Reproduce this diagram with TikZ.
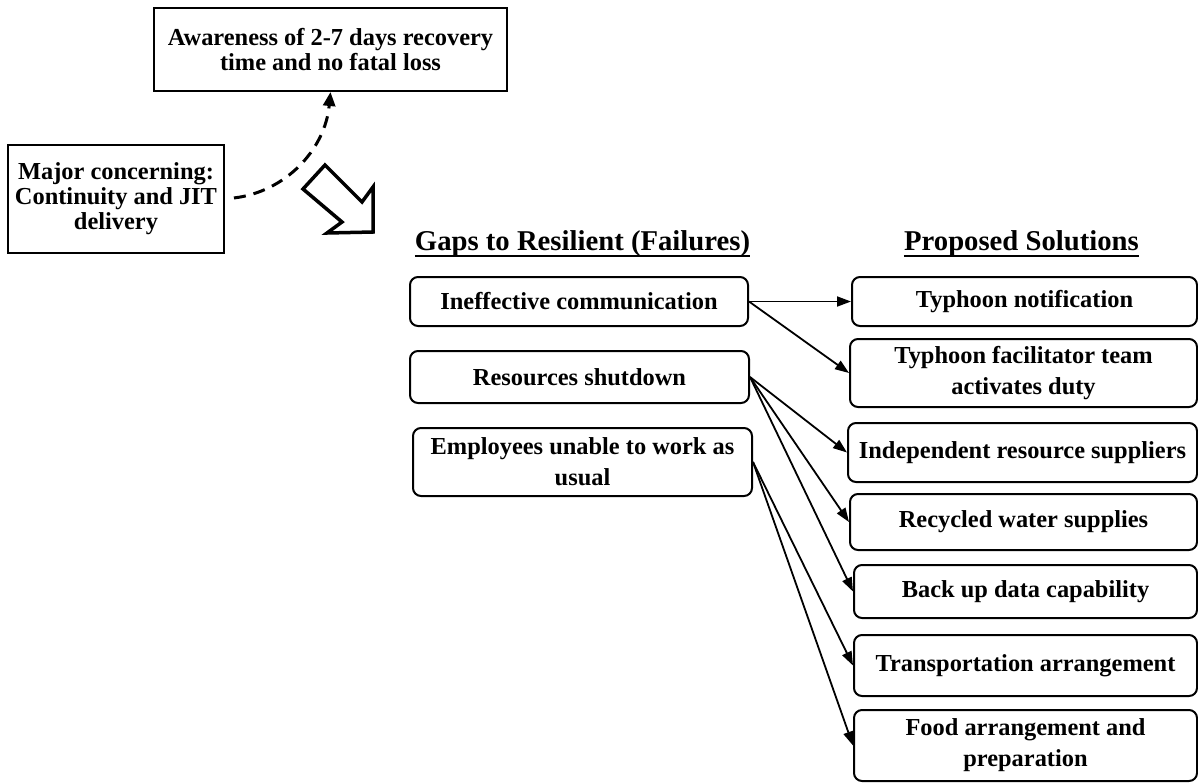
\documentclass[tikz,border=0pt]{standalone}
\usepackage{fontspec}
\setmainfont{Liberation Serif}
\usetikzlibrary{arrows.meta}
\begin{document}
\begin{tikzpicture}[x=1pt,y=-1pt,
  txt/.style={font=\fontsize{24.4}{31}\selectfont\bfseries, align=center, inner sep=0pt},
  sharpbox/.style={txt, draw, line width=2pt, font=\fontsize{24.4}{25}\selectfont\bfseries},
  roundbox/.style={txt, draw, line width=2pt, rounded corners=8pt},
  heading/.style={font=\fontsize{28.7}{34}\selectfont\bfseries, inner sep=0pt, anchor=base},
  conn/.style={line width=1.8pt, -{Triangle[length=14pt,width=10pt]}},
  dashconn/.style={line width=3pt, dash pattern=on 12pt off 8pt, -{Triangle[length=14pt,width=12pt]}}
]
\useasboundingbox (0,0) rectangle (1198,782);

% context boxes
\node[sharpbox, minimum width=353pt, minimum height=83pt] (aware) at (330.5,49.5)
  {Awareness of 2-7 days recovery\\time and no fatal loss};
\node[sharpbox, minimum width=216pt, minimum height=108pt] (major) at (116,199)
  {Major concerning:\\Continuity and JIT\\delivery};

\draw[dashconn, shorten <=9pt] (major.east) .. controls (285,192) and (325,150) .. (aware.south);

% hollow block arrow
\draw[line width=3.5pt, line join=miter]
  (303,189) -- (325,165) -- (362,202) -- (373,187) -- (373,232) -- (327,233) -- (342,222) -- cycle;

% column headings
\node[heading] (gaps) at (582.5,250) {Gaps to Resilient (Failures)};
\node[heading] (sol) at (1021.5,250) {Proposed Solutions};
\draw[line width=2pt] ([yshift=-6pt]gaps.base west) -- ([yshift=-6pt]gaps.base east);
\draw[line width=2pt] ([yshift=-6pt]sol.base west) -- ([yshift=-6pt]sol.base east);

% gaps
\node[roundbox, minimum width=338pt, minimum height=49pt] (ineff) at (579,301.5) {Ineffective communication};
\node[roundbox, minimum width=339pt, minimum height=52pt] (res) at (579.5,377) {Resources shutdown};
\node[roundbox, minimum width=339pt, minimum height=68pt] (emp) at (582.5,462) {Employees unable to work as\\usual};

% solutions
\node[roundbox, minimum width=345pt, minimum height=49pt] (tn) at (1024.5,301.5) {Typhoon notification};
\node[roundbox, minimum width=347pt, minimum height=68pt] (tf) at (1023.5,373) {Typhoon facilitator team\\activates duty};
\node[roundbox, minimum width=349pt, minimum height=59pt] (ind) at (1022.5,452.5) {Independent resource suppliers};
\node[roundbox, minimum width=347pt, minimum height=56pt] (rec) at (1023.5,522) {Recycled water supplies};
\node[roundbox, minimum width=343pt, minimum height=53pt] (bak) at (1025.5,591.5) {Back up data capability};
\node[roundbox, minimum width=343pt, minimum height=61pt] (tra) at (1025.5,665.5) {Transportation arrangement};
\node[roundbox, minimum width=343pt, minimum height=71pt] (food) at (1025.5,745.5) {Food arrangement and\\preparation};

% links from gaps to solutions
\draw[conn] (ineff.east) -- (tn.west);
\draw[conn] (ineff.east) -- (tf.west);
\draw[conn] (res.east) -- (ind.west);
\draw[conn] (res.east) -- (rec.west);
\draw[conn] (res.east) -- (bak.west);
\draw[conn] (emp.east) -- (tra.west);
\draw[conn] (emp.east) -- (food.west);
\end{tikzpicture}
\end{document}
